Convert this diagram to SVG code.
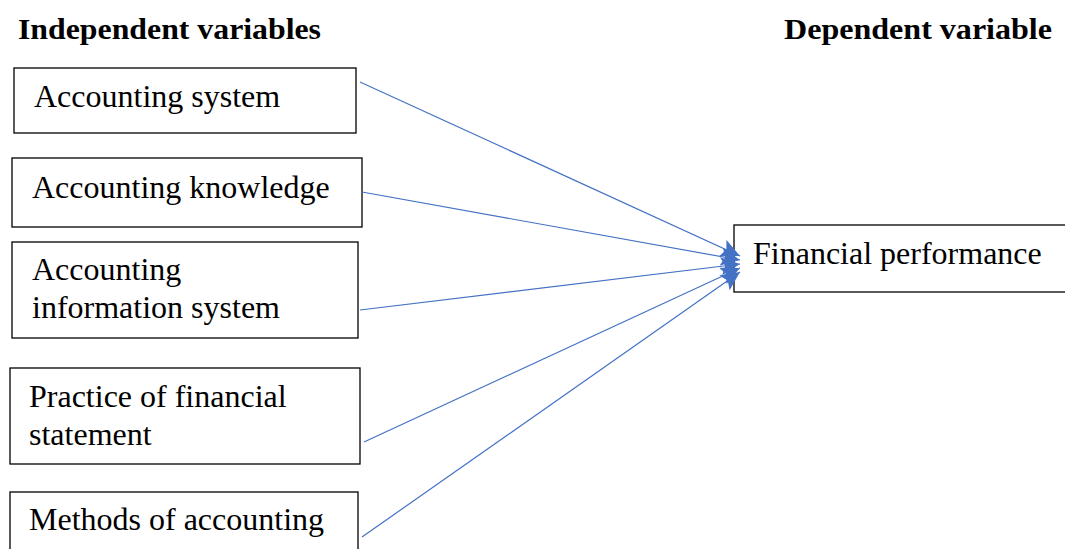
<svg xmlns="http://www.w3.org/2000/svg" width="1065" height="549" viewBox="0 0 1065 549">
<style>
.box{fill:#fff;stroke:#000;stroke-width:1.3}
.t{font-family:"Liberation Serif","Times New Roman",serif;font-size:32px;fill:#000}
.h{font-family:"Liberation Serif","Times New Roman",serif;font-size:29px;font-weight:bold;fill:#000}
.c{stroke:#4472C4;stroke-width:1.2;fill:none;marker-end:url(#ah)}
</style>
<defs>
<marker id="ah" markerUnits="userSpaceOnUse" markerWidth="20" markerHeight="18" refX="19" refY="9" orient="auto">
<path d="M0,0 L19,9 L0,18 L4,9 Z" fill="#4472C4"/>
</marker>
</defs>
<rect width="1065" height="549" fill="#fff"/>
<text class="h" x="18" y="39" textLength="303" lengthAdjust="spacingAndGlyphs">Independent variables</text>
<text class="h" x="784" y="39" textLength="268" lengthAdjust="spacingAndGlyphs">Dependent variable</text>
<g id="n1"><rect class="box" x="14" y="68" width="342" height="65"/><text class="t" x="34" y="107">Accounting system</text></g>
<g id="n2"><rect class="box" x="12" y="158" width="350" height="69"/><text class="t" x="32" y="198">Accounting knowledge</text></g>
<g id="n3"><rect class="box" x="12" y="242" width="346" height="96"/><text class="t" x="32" y="280">Accounting</text><text class="t" x="32" y="318">information system</text></g>
<g id="n4"><rect class="box" x="10" y="368" width="350" height="96"/><text class="t" x="29" y="407">Practice of financial</text><text class="t" x="29" y="445">statement</text></g>
<g id="n5"><rect class="box" x="10" y="492" width="348" height="70"/><text class="t" x="29" y="530">Methods of accounting</text></g>
<g id="n6"><rect class="box" x="734" y="225" width="340" height="67"/><text class="t" x="753" y="264">Financial performance</text></g>
<g id="connectors">
<line class="c" x1="360" y1="82" x2="740" y2="256"/>
<line class="c" x1="362" y1="192" x2="740" y2="260"/>
<line class="c" x1="360" y1="310" x2="740" y2="264"/>
<line class="c" x1="364" y1="442" x2="740" y2="268"/>
<line class="c" x1="362" y1="537" x2="740" y2="272"/>
</g>
</svg>
